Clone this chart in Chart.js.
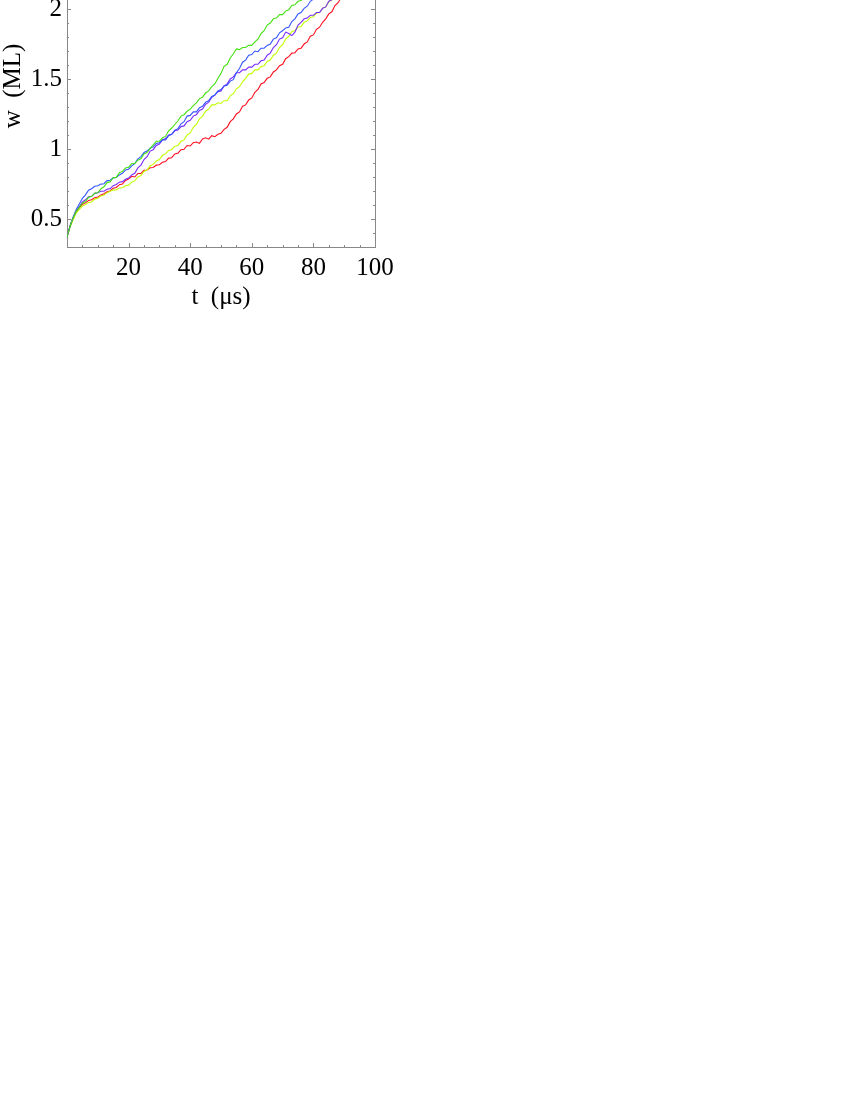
<!DOCTYPE html>
<html>
<head>
<meta charset="utf-8">
<script src="https://cdn.jsdelivr.net/npm/chart.js@4/dist/chart.umd.min.js"></script>
<style>
  html, body { margin: 0; padding: 0; background: #fff; width: 850px; height: 1100px; overflow: hidden; }
  /* chart is cropped at the top, like the original figure */
  #wrap { position: absolute; left: 0; top: -95px; width: 420px; height: 420px; }
</style>
</head>
<body>
<div id="wrap"><canvas id="chart" width="420" height="420"></canvas></div>
<script>
// time grid (µs)
const tValues = [];
for (let t = 0; t <= 90; t++) tValues.push(t);

// roughness w (ML) at 1 µs steps
const wRed = [0.37,0.45,0.51,0.553,0.58,0.605,0.615,0.632,0.638,0.652,
  0.657,0.672,0.68,0.694,0.70,0.72,0.725,0.745,0.75,0.775,
  0.785,0.805,0.80,0.825,0.826,0.848,0.85,0.866,0.868,0.885,
  0.888,0.905,0.91,0.935,0.938,0.965,0.97,0.995,0.998,1.025,
  1.022,1.045,1.05,1.04,1.072,1.08,1.07,1.095,1.088,1.105,
  1.112,1.14,1.155,1.195,1.215,1.25,1.265,1.305,1.315,1.35,
  1.365,1.405,1.425,1.465,1.475,1.505,1.515,1.55,1.565,1.595,
  1.605,1.645,1.66,1.685,1.688,1.715,1.72,1.75,1.765,1.805,
  1.815,1.855,1.87,1.905,1.93,1.965,1.98,2.025,2.045,2.08,2.10];
const wYellow = [0.37,0.44,0.495,0.542,0.568,0.592,0.603,0.618,0.622,0.642,
  0.648,0.665,0.672,0.688,0.698,0.708,0.707,0.722,0.723,0.738,
  0.742,0.763,0.772,0.80,0.81,0.84,0.85,0.88,0.89,0.915,
  0.925,0.955,0.965,0.99,0.995,1.02,1.025,1.055,1.065,1.10,
  1.115,1.155,1.175,1.215,1.235,1.27,1.285,1.315,1.315,1.33,
  1.325,1.345,1.345,1.38,1.395,1.43,1.445,1.48,1.505,1.535,
  1.54,1.565,1.565,1.59,1.595,1.625,1.635,1.67,1.685,1.725,
  1.745,1.785,1.805,1.84,1.845,1.87,1.875,1.905,1.915,1.94,
  1.945,1.97,1.975,2.005,2.015,2.05,2.065,2.09,null,null,null];
const wGreen = [0.37,0.45,0.51,0.557,0.583,0.613,0.627,0.655,0.66,0.685,
  0.688,0.715,0.73,0.76,0.765,0.795,0.797,0.83,0.84,0.865,
  0.87,0.895,0.897,0.92,0.93,0.965,0.975,1.005,1.03,1.055,
  1.055,1.08,1.09,1.13,1.15,1.175,1.20,1.235,1.245,1.27,
  1.285,1.31,1.33,1.36,1.37,1.40,1.415,1.445,1.465,1.505,
  1.54,1.59,1.605,1.65,1.68,1.715,1.71,1.725,1.725,1.74,
  1.74,1.765,1.785,1.825,1.845,1.885,1.90,1.93,1.935,1.96,
  1.96,1.985,1.995,2.025,2.03,2.055,2.06,2.085,2.10,null,
  null,null,null,null,null,null,null,null,null,null,null];
const wBlue = [0.37,0.45,0.515,0.568,0.607,0.648,0.672,0.705,0.716,0.734,
  0.737,0.749,0.752,0.774,0.777,0.794,0.797,0.815,0.826,0.85,
  0.856,0.88,0.895,0.93,0.945,0.975,0.985,1.005,1.015,1.04,
  1.045,1.065,1.065,1.095,1.105,1.135,1.145,1.18,1.195,1.235,
  1.24,1.265,1.265,1.295,1.305,1.335,1.345,1.375,1.385,1.415,
  1.425,1.45,1.455,1.485,1.495,1.545,1.575,1.62,1.635,1.67,
  1.675,1.70,1.695,1.72,1.72,1.74,1.75,1.785,1.795,1.83,
  1.845,1.865,1.87,1.91,1.93,1.965,1.975,2.005,2.02,2.055,
  2.07,2.10,null,null,null,null,null,null,null,null,null];
const wPurple = [0.37,0.45,0.51,0.557,0.588,0.622,0.637,0.658,0.662,0.683,
  0.687,0.698,0.698,0.713,0.717,0.738,0.747,0.763,0.767,0.784,
  0.792,0.815,0.826,0.865,0.885,0.925,0.945,0.985,0.995,1.025,
  1.035,1.065,1.075,1.10,1.105,1.13,1.135,1.16,1.165,1.195,
  1.205,1.235,1.245,1.275,1.285,1.32,1.335,1.37,1.385,1.41,
  1.415,1.45,1.465,1.50,1.515,1.545,1.545,1.565,1.565,1.585,
  1.585,1.605,1.605,1.63,1.635,1.67,1.685,1.725,1.745,1.785,
  1.795,1.835,1.825,1.81,1.835,1.885,1.905,1.93,1.935,1.955,
  1.955,1.975,1.975,2.005,2.015,2.055,2.065,2.09,null,null,null];

// ticks
const xMajorTicks = [20, 40, 60, 80, 100];
const xMinorTicks = [5, 10, 15, 25, 30, 35, 45, 50, 55, 65, 70, 75, 85, 90, 95];
const yMajorTicks = [0.5, 1, 1.5, 2, 2.5];
const yMinorTicks = [0.4, 0.6, 0.7, 0.8, 0.9, 1.1, 1.2, 1.3, 1.4, 1.6, 1.7, 1.8, 1.9, 2.1, 2.2, 2.3, 2.4];

const AXIS_COLOR = '#888';
const FONT = 'Liberation Serif, Times New Roman, serif';

// inward tick marks + right frame, like the original
const frameTicks = {
  id: 'frameTicks',
  afterDraw(chart) {
    const { ctx, chartArea: a, scales: { x, y } } = chart;
    ctx.save();
    ctx.strokeStyle = AXIS_COLOR;
    ctx.lineWidth = 1;
    ctx.beginPath();
    ctx.moveTo(a.right + 0.5, a.top);
    ctx.lineTo(a.right + 0.5, a.bottom);
    const xt = (v, len) => {
      const px = Math.round(x.getPixelForValue(v)) + 0.5;
      ctx.moveTo(px, a.bottom);
      ctx.lineTo(px, a.bottom - len);
    };
    const yt = (v, len) => {
      const py = Math.round(y.getPixelForValue(v)) + 0.5;
      ctx.moveTo(a.left, py);
      ctx.lineTo(a.left + len, py);
      ctx.moveTo(a.right, py);
      ctx.lineTo(a.right - len, py);
    };
    xMajorTicks.forEach(v => xt(v, 4));
    xMinorTicks.forEach(v => xt(v, 2));
    yMajorTicks.forEach(v => yt(v, 4));
    yMinorTicks.forEach(v => yt(v, 2));
    ctx.stroke();
    ctx.restore();
  }
};

function line(data, color) {
  return {
    data: data,
    borderColor: color,
    borderWidth: 1.1,
    pointRadius: 0,
    tension: 0,
    fill: false,
    spanGaps: false
  };
}

new Chart(document.getElementById('chart'), {
  type: 'line',
  data: {
    labels: tValues,
    datasets: [
      line(wGreen, '#44e011'),
      line(wBlue, '#3355ff'),
      line(wPurple, '#7a2bff'),
      line(wYellow, '#c0ff00'),
      line(wRed, '#ff0f1f')
    ]
  },
  options: {
    responsive: false,
    animation: false,
    layout: { padding: { top: 0, right: 45, bottom: 0, left: 0 } },
    plugins: { legend: { display: false }, tooltip: { enabled: false } },
    scales: {
      x: {
        type: 'linear',
        min: 0,
        max: 100,
        afterBuildTicks: s => { s.ticks = xMajorTicks.map(v => ({ value: v })); },
        afterFit: s => { s.height = 78; },
        grid: { display: false, drawTicks: false },
        border: { display: true, color: AXIS_COLOR, width: 1 },
        ticks: {
          autoSkip: false,
          maxRotation: 0,
          padding: 6,
          color: '#000',
          font: { family: FONT, size: 25 },
          callback: v => String(v)
        },
        title: {
          display: true,
          text: 't  (\u03bcs)',
          color: '#000',
          font: { family: FONT, size: 25, lineHeight: 1 },
          padding: { top: 0, bottom: 15 }
        }
      },
      y: {
        min: 0.3,
        max: 2.6,
        afterBuildTicks: s => { s.ticks = yMajorTicks.map(v => ({ value: v })); },
        afterFit: s => { s.width = 67; },
        grid: { display: false, drawTicks: false },
        border: { display: true, color: AXIS_COLOR, width: 1 },
        ticks: {
          padding: 5,
          color: '#000',
          font: { family: FONT, size: 25 },
          callback: v => String(v)
        },
        title: {
          display: true,
          text: 'w  (ML)',
          color: '#000',
          font: { family: FONT, size: 25, lineHeight: 1 },
          padding: { top: 1, bottom: 0 }
        }
      }
    }
  },
  plugins: [frameTicks]
});
</script>
</body>
</html>
